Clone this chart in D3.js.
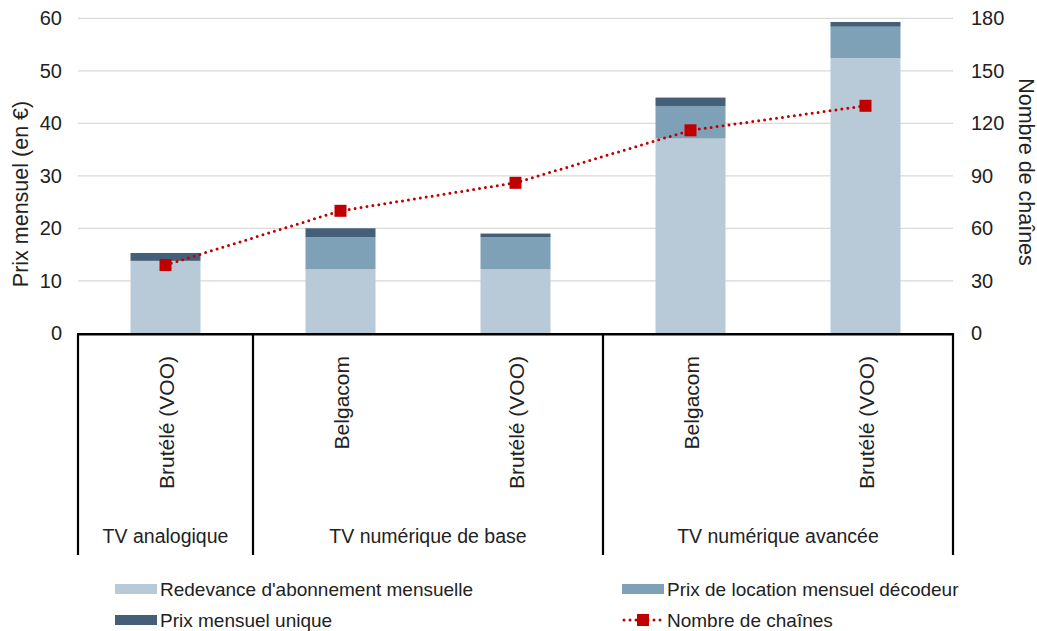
<!DOCTYPE html>
<html><head><meta charset="utf-8">
<script src="https://cdn.jsdelivr.net/npm/d3@7"></script>
<style>body{margin:0;background:#fff}svg{display:block;font-family:"Liberation Sans",Arial,sans-serif}</style>
</head><body><svg id="c" width="1037" height="631"></svg>
<script>
const categories = ["Brutélé (VOO)", "Belgacom", "Brutélé (VOO)", "Belgacom", "Brutélé (VOO)"];
const groups = ["TV analogique", "TV numérique de base", "TV numérique avancée"];
const groupSizes = [1, 2, 2];
const redevance = [13.8, 12.2, 12.2, 37.1, 52.4];
const decodeur = [0, 6.1, 6.1, 6.2, 6.0];
const unique = [1.5, 1.7, 0.7, 1.6, 0.9];
const chaines = [39, 70, 86, 116, 130];
const leftTicks = [0, 10, 20, 30, 40, 50, 60];
const rightTicks = [0, 30, 60, 90, 120, 150, 180];
const seriesNames = ["Redevance d'abonnement mensuelle", "Prix de location mensuel décodeur", "Prix mensuel unique", "Nombre de chaînes"];

const colors = ["#b8cad8", "#7ea1b8", "#436078"];
const red = "#c00000";
const txt = "#222";
const svg = d3.select("#c");
const L = 78, R = 953, T = 18.3, B = 333.3;

const x = d3.scaleBand().domain(d3.range(categories.length)).range([L, R]).paddingInner(0.6).paddingOuter(0.3);
const yL = d3.scaleLinear().domain([0, 60]).range([B, T]);
const yR = d3.scaleLinear().domain([0, 180]).range([B, T]);

// grid
svg.append("g").selectAll("line").data(leftTicks.slice(1)).join("line")
  .attr("x1", L).attr("x2", R).attr("y1", d => yL(d)).attr("y2", d => yL(d))
  .attr("stroke", "#d9d9d9").attr("stroke-width", 1.3);

// stacked bars
const rows = categories.map((c, i) => ({i, redevance: redevance[i], decodeur: decodeur[i], unique: unique[i]}));
const stack = d3.stack().keys(["redevance", "decodeur", "unique"])(rows);
svg.append("g").selectAll("g").data(stack).join("g").attr("fill", (d, k) => colors[k])
  .selectAll("rect").data(d => d).join("rect")
  .attr("x", d => x(d.data.i)).attr("width", x.bandwidth())
  .attr("y", d => yL(d[1])).attr("height", d => yL(d[0]) - yL(d[1]));

// axes
const axL = svg.append("g").attr("transform", `translate(${L - 16},0)`)
  .call(d3.axisLeft(yL).tickValues(leftTicks).tickSize(0).tickPadding(0));
axL.select(".domain").remove();
axL.selectAll("text").attr("font-size", 20).attr("fill", txt).attr("font-family", "Liberation Sans, Arial");

const axR = svg.append("g").attr("transform", `translate(${R + 18},0)`)
  .call(d3.axisRight(yR).tickValues(rightTicks).tickSize(0).tickPadding(0));
axR.select(".domain").remove();
axR.selectAll("text").attr("font-size", 20).attr("fill", txt).attr("font-family", "Liberation Sans, Arial");

// axis titles
svg.append("text").attr("transform", `translate(28,194) rotate(-90)`).attr("text-anchor", "middle")
  .attr("font-size", 21.5).attr("fill", txt).text("Prix mensuel (en €)");
svg.append("text").attr("transform", `translate(1019,172) rotate(90)`).attr("text-anchor", "middle")
  .attr("font-size", 21.5).attr("fill", txt).text("Nombre de chaînes");

// category box: boundaries midway between bars of adjacent groups
const boxBottom = 555;
const bounds = [L];
let acc = 0;
groupSizes.forEach(s => {
  acc += s;
  if (acc === categories.length) bounds.push(R);
  else bounds.push((x(acc - 1) + x.bandwidth() + x(acc)) / 2);
});
svg.append("g").selectAll("line").data(bounds).join("line")
  .attr("x1", d => d).attr("x2", d => d).attr("y1", B).attr("y2", boxBottom)
  .attr("stroke", "#000").attr("stroke-width", 2.2);
svg.append("line").attr("x1", L - 1).attr("x2", R + 1).attr("y1", B + 1).attr("y2", B + 1)
  .attr("stroke", "#000").attr("stroke-width", 2.6);

// category labels
svg.append("g").selectAll("text").data(categories).join("text")
  .attr("transform", (d, i) => `translate(${x(i) + x.bandwidth() / 2 + 8},356) rotate(-90)`)
  .attr("text-anchor", "end").attr("font-size", 21).attr("fill", txt).text(d => d);

// group labels
svg.append("g").selectAll("text").data(groups).join("text")
  .attr("x", (d, k) => (bounds[k] + bounds[k + 1]) / 2).attr("y", 543)
  .attr("text-anchor", "middle").attr("font-size", 19.5).attr("fill", txt).text(d => d);

// line
const cx = i => x(i) + x.bandwidth() / 2;
svg.append("path").datum(chaines).attr("fill", "none").attr("stroke", red)
  .attr("stroke-width", 3).attr("stroke-linecap", "round").attr("stroke-dasharray", "0 6")
  .attr("d", d3.line().x((d, i) => cx(i)).y(d => yR(d)));
svg.append("g").selectAll("rect").data(chaines).join("rect")
  .attr("x", (d, i) => cx(i) - 6).attr("y", d => yR(d) - 6).attr("width", 12).attr("height", 12)
  .attr("fill", red);

// legend
const leg = [
  {name: seriesNames[0], x: 115, y: 589, type: 0},
  {name: seriesNames[1], x: 622, y: 589, type: 1},
  {name: seriesNames[2], x: 115, y: 620, type: 2},
  {name: seriesNames[3], x: 622, y: 620, type: 3}
];
const lg = svg.append("g").selectAll("g").data(leg).join("g").attr("transform", d => `translate(${d.x},${d.y})`);
lg.filter(d => d.type < 3).append("rect").attr("x", 0).attr("y", -5).attr("width", 42).attr("height", 10).attr("fill", d => colors[d.type]);
lg.filter(d => d.type === 3).append("line").attr("x1", 2).attr("x2", 40).attr("y1", 0).attr("y2", 0)
  .attr("stroke", red).attr("stroke-width", 3).attr("stroke-linecap", "round").attr("stroke-dasharray", "0 6");
lg.filter(d => d.type === 3).append("rect").attr("x", 15).attr("y", -6).attr("width", 12).attr("height", 12).attr("fill", red);
lg.append("text").attr("x", 45).attr("y", 0).attr("dy", "0.35em").attr("font-size", 19).attr("fill", txt).text(d => d.name);
</script></body></html>
